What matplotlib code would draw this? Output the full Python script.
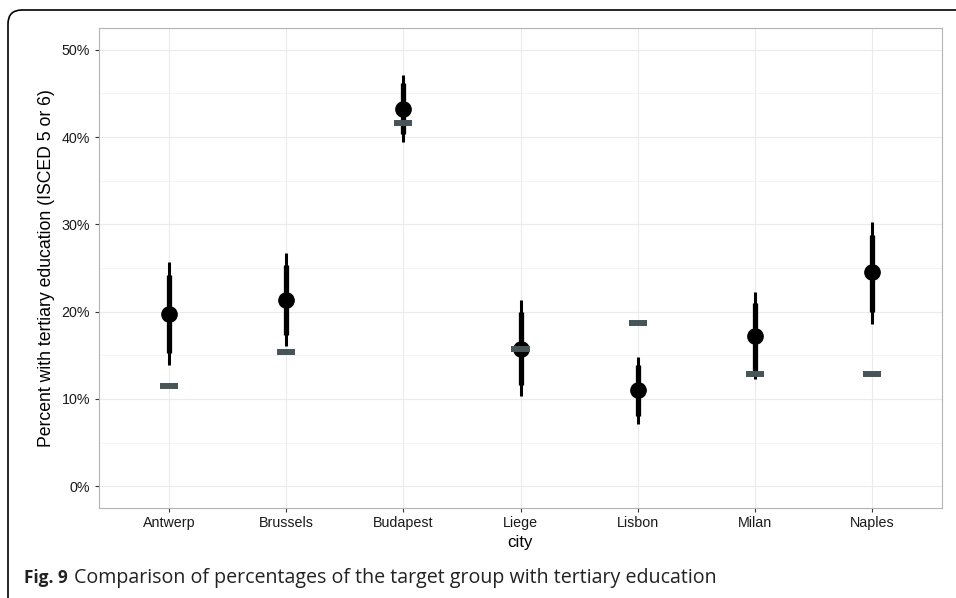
import matplotlib
matplotlib.use("Agg")
import matplotlib.pyplot as plt
from matplotlib.patches import FancyBboxPatch
from matplotlib.ticker import FuncFormatter, MultipleLocator
import numpy as np

cities = ["Antwerp", "Brussels", "Budapest", "Liege", "Lisbon", "Milan", "Naples"]
estimate = [19.75, 21.35, 43.2, 15.7, 11.0, 17.2, 24.5]
inner_low = [15.3, 17.35, 40.3, 11.6, 8.0, 13.2, 20.0]
inner_high = [24.2, 25.3, 46.2, 20.0, 13.9, 21.0, 28.8]
outer_low = [13.85, 16.1, 39.4, 10.3, 7.1, 12.3, 18.6]
outer_high = [25.65, 26.7, 47.1, 21.3, 14.8, 22.2, 30.25]
reference = [11.45, 15.4, 41.6, 15.7, 18.7, 12.9, 12.9]
y_ticks = [0, 10, 20, 30, 40, 50]

W, H = 956, 598
fig = plt.figure(figsize=(W / 100, H / 100), dpi=100)
plt.rcParams['font.family'] = ['Liberation Sans', 'DejaVu Sans']

# background frame
bg = fig.add_axes([0, 0, 1, 1], zorder=-5)
bg.set_xlim(0, W)
bg.set_ylim(H, 0)
bg.axis("off")
bg.add_patch(FancyBboxPatch((8, 10), 1100, 800, boxstyle="round,pad=0,rounding_size=14",
                            fill=False, ec="black", lw=1.2))
bg.text(24, 578, "Fig. 9", fontsize=12.4, fontweight="bold", family=["Open Sans", "DejaVu Sans"],
        va="center", ha="left", color="#222222")
bg.text(74, 578, "Comparison of percentages of the target group with tertiary education",
        fontsize=14.1, family=["Open Sans", "DejaVu Sans"], va="center", ha="left", color="#222222")

ax = fig.add_axes([99 / W, 1 - 508 / H, (942 - 99) / W, (508 - 28) / H])
x = np.arange(len(cities))
ax.set_xlim(-0.6, len(cities) - 0.4)
ax.set_ylim(-2.5, 52.5)

ax.yaxis.set_minor_locator(MultipleLocator(5))
ax.set_yticks(y_ticks)
ax.yaxis.set_major_formatter(FuncFormatter(lambda v, p: f"{int(round(v))}%"))
ax.set_xticks(x)
ax.set_xticklabels(cities)

ax.grid(True, which="major", color="#ebebeb", lw=0.8)
ax.grid(True, which="minor", axis="y", color="#f2f2f2", lw=0.6)
ax.set_axisbelow(True)
for s in ax.spines.values():
    s.set_color("#b3b3b3")
    s.set_linewidth(0.8)
ax.tick_params(which="major", length=3, color="#333333", labelsize=10.3, labelcolor="#1a1a1a", width=0.8)
ax.tick_params(axis="x", pad=2.5)
ax.tick_params(which="minor", length=0)

ax.vlines(x, outer_low, outer_high, color="black", lw=2.2, zorder=3)
ax.vlines(x, inner_low, inner_high, color="black", lw=3.8, zorder=3)
ax.plot(x, estimate, "o", color="black", ms=11, zorder=4)
ax.hlines(reference, x - 0.077, x + 0.077, color="#475559", lw=4.3, zorder=5)

ax.set_xlabel("city", fontsize=12.2, color="black", labelpad=4)
ax.set_ylabel("Percent with tertiary education (ISCED 5 or 6)", fontsize=12.7, color="black", labelpad=5)

fig.savefig("out.png", dpi=100)
